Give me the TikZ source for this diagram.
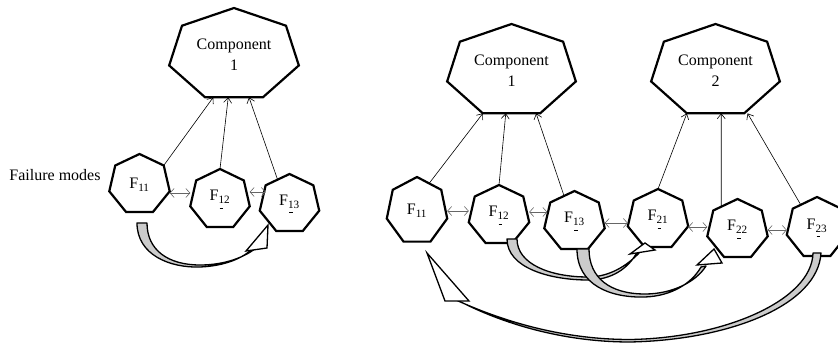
\documentclass[tikz,border=0pt]{standalone}
\usepackage{fontspec}
\setmainfont{Liberation Serif}
\usetikzlibrary{calc,arrows.meta}

\tikzset{
  hepline/.style={line width=2.2pt, line join=miter, fill=white},
  txt/.style={font=\fontsize{16}{21}\selectfont, align=center, inner sep=0pt},
  link/.style={line width=0.6pt, -{Straight Barb[length=5pt,width=8pt]}},
  dbl/.style={draw=black!60, line width=0.6pt,
    {Straight Barb[length=4pt,width=9pt]}-{Straight Barb[length=4pt,width=9pt]}},
  bandfill/.style={draw=black, line width=1.3pt, fill=gray!40, line join=round},
  tipfill/.style={draw=black, line width=1.3pt, fill=white, line join=miter},
}

% heptagon: name, cx, cy, x radius, y radius, text
% vertices are stored as name-0 (top) ... name-6, clockwise
\newcommand\hept[6]{%
  \draw[hepline] (#2,#3) ++(-90:#4 and #5)
    \foreach \k in {1,...,6}{ -- ($(#2,#3)+({-90+\k*360/7}:#4 and #5)$)} -- cycle;
  \foreach \k in {0,...,6}{\coordinate (#1-\k) at ($(#2,#3)+({-90+\k*360/7}:#4 and #5)$);}
  \node[txt] (#1) at (#2,#3) {#6};
}
% failure mode label with the small mark under the subscript
\newcommand\fm[2]{F\textsubscript{#1#2}}
\newcommand\fmd[2]{F\textsubscript{\makebox[0pt][l]{\hspace{1pt}\rule[-5pt]{3.5pt}{0.8pt}}#1#2}}

\begin{document}
\begin{tikzpicture}[x=1pt, y=-1pt]
\useasboundingbox (0,0) rectangle (838,344);

% ---------- single component ----------
\hept{c1l}{234}{55}{66.5}{47}{Component\\1}
\hept{f11l}{139.5}{184.5}{31}{30.5}{\fm11}
\hept{f12l}{220}{199.5}{30.5}{30.5}{\fmd12}
\hept{f13l}{289.5}{204}{30.5}{30}{\fmd13}
\node[txt] (fmodes) at (55,175) {Failure modes};

\draw[link] (f11l-1) -- ($(c1l-4)!0.14!(c1l-3)$);
\draw[link] (f12l-0) -- ($(c1l-4)!0.40!(c1l-3)$);
\draw[link] ($(f13l-0)!0.5!(f13l-6)$) -- ($(c1l-4)!0.76!(c1l-3)$);

\draw[dbl] (f11l-2 |- 0,193) -- (f12l-5 |- 0,193);
\draw[dbl] (f12l-2 |- 0,192) -- ($(f13l-5 |- 0,192)+(6,0)$);

% F11 -> F13
\path[bandfill] (137,223) .. controls (137,255) and (170,268) .. (200,267)
  .. controls (225,266) and (243,258) .. (252,249) -- (256,248)
  .. controls (245,257) and (225,265) .. (200,265)
  .. controls (168,265) and (147,250) .. (147,223) -- cycle;
\path[tipfill] (246,251) -- (268,225) -- (267,248) -- cycle;

% ---------- two components ----------
\hept{c1r}{511.5}{71}{66}{47}{Component\\1}
\hept{c2r}{715.5}{71}{66}{47}{Component\\2}
\hept{f11r}{417}{211}{31}{34}{\fm11}
\hept{f12r}{499}{215.5}{31}{30.5}{\fmd12}
\hept{f13r}{574.5}{221.5}{31}{30.5}{\fmd13}
\hept{f21}{658}{219.5}{31}{30.5}{\fmd21}
\hept{f22}{737.5}{229.5}{31}{30.5}{\fmd22}
\hept{f23}{817}{228}{31}{31}{\fmd23}

\draw[link] ($(f11r-0)!0.5!(f11r-1)$) -- (c1r-4);
\draw[link] (f12r-0) -- ($(c1r-4)!0.40!(c1r-3)$);
\draw[link] ($(f13r-0)!0.43!(f13r-6)$) -- ($(c1r-4)!0.93!(c1r-3)$);
\draw[link] (f21-0) -- (c2r-4);
\draw[link] ($(f22-0)!0.67!(f22-6)$) -- ($(c2r-4)!0.6!(c2r-3)$);
\draw[link] ($(f23-0)!0.67!(f23-6)$) -- ($(c2r-4)!1.06!(c2r-3)$);

\draw[dbl] (f11r-2 |- 0,211) -- (f12r-5 |- 0,211);
\draw[dbl] (f12r-2 |- 0,212) -- ($(f13r-5 |- 0,212)+(3,0)$);
\draw[dbl] (f13r-2 |- 0,223) -- (f21-5 |- 0,223);
\draw[dbl] (f21-2 |- 0,227) -- (f22-5 |- 0,227);
\draw[dbl] (f22-2 |- 0,230) -- (f23-5 |- 0,230);

% F12 -> F21
\path[bandfill] (507,239) .. controls (507,268) and (550,280) .. (588,280)
  .. controls (612,280) and (628,268) .. (636,254) -- (640,252)
  .. controls (628,265) and (610,277) .. (588,277)
  .. controls (550,277) and (517,264) .. (517,239) -- cycle;
\path[tipfill] (630,254) -- (645,243) -- (655,250) -- cycle;

% F13 -> F22
\path[bandfill] (577,249) .. controls (577,285) and (610,298) .. (645,297)
  .. controls (672,296) and (692,283) .. (701,267) -- (706,266)
  .. controls (696,282) and (672,294) .. (645,294)
  .. controls (610,294) and (589,278) .. (589,249) -- cycle;
\path[tipfill] (697,265) -- (714,249) -- (722,263) -- cycle;

% F23 -> F11
\path[bandfill] (821,253) .. controls (818,305) and (730,340) .. (630,342)
  .. controls (560,342) and (500,322) .. (461,302) -- (456,300)
  .. controls (500,320) and (560,339.5) .. (630,339.5)
  .. controls (725,338) and (812,300) .. (813,253) -- cycle;
\path[tipfill] (445,301) -- (427,253) -- (469,301) -- cycle;
\end{tikzpicture}
\end{document}
